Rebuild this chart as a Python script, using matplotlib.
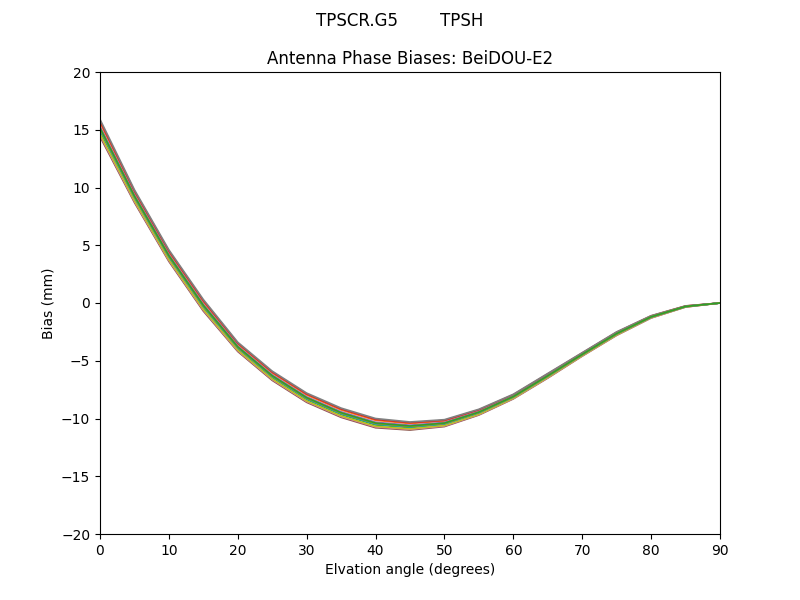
import matplotlib
matplotlib.use("Agg")
import matplotlib.pyplot as plt

# elevation grid (degrees)
elev = [0, 5, 10, 15, 20, 25, 30, 35, 40, 45, 50, 55, 60, 65, 70, 75, 80, 85, 90]

# phase biases (mm), one curve per azimuth 0..360 step 30
az_000 = [15.15, 9.25, 4.10, -0.20, -3.80, -6.30, -8.20, -9.50, -10.40, -10.65, -10.40, -9.45, -8.10, -6.30, -4.45, -2.65, -1.20, -0.30, 0.0]
az_030 = [15.60, 9.58, 4.40, 0.10, -3.56, -6.06, -7.96, -9.26, -10.16, -10.44, -10.22, -9.30, -7.98, -6.18, -4.36, -2.56, -1.14, -0.27, 0.0]
az_060 = [14.85, 9.03, 3.90, -0.40, -3.96, -6.46, -8.36, -9.66, -10.56, -10.79, -10.52, -9.55, -8.18, -6.38, -4.51, -2.71, -1.24, -0.32, 0.0]
az_090 = [15.75, 9.69, 4.50, 0.20, -3.48, -5.98, -7.88, -9.18, -10.08, -10.37, -10.16, -9.25, -7.94, -6.14, -4.33, -2.53, -1.12, -0.26, 0.0]
az_120 = [15.30, 9.36, 4.20, -0.10, -3.72, -6.22, -8.12, -9.42, -10.32, -10.58, -10.34, -9.40, -8.06, -6.26, -4.42, -2.62, -1.18, -0.29, 0.0]
az_150 = [14.40, 8.70, 3.60, -0.70, -4.20, -6.70, -8.60, -9.90, -10.80, -11.00, -10.70, -9.70, -8.30, -6.50, -4.60, -2.80, -1.30, -0.35, 0.0]
az_180 = [14.55, 8.81, 3.70, -0.60, -4.12, -6.62, -8.52, -9.82, -10.72, -10.93, -10.64, -9.65, -8.26, -6.46, -4.57, -2.77, -1.28, -0.34, 0.0]
az_210 = [15.90, 9.80, 4.60, 0.30, -3.40, -5.90, -7.80, -9.10, -10.00, -10.30, -10.10, -9.20, -7.90, -6.10, -4.30, -2.50, -1.10, -0.25, 0.0]
az_240 = [14.63, 8.87, 3.75, -0.55, -4.08, -6.58, -8.48, -9.78, -10.68, -10.90, -10.61, -9.63, -8.24, -6.44, -4.56, -2.76, -1.27, -0.34, 0.0]
az_270 = [15.00, 9.14, 4.00, -0.30, -3.88, -6.38, -8.28, -9.58, -10.48, -10.72, -10.46, -9.50, -8.14, -6.34, -4.48, -2.68, -1.22, -0.31, 0.0]
az_300 = [15.08, 9.20, 4.05, -0.25, -3.84, -6.34, -8.24, -9.54, -10.44, -10.69, -10.43, -9.48, -8.12, -6.32, -4.47, -2.67, -1.21, -0.30, 0.0]
az_330 = [15.12, 9.22, 4.08, -0.22, -3.82, -6.32, -8.22, -9.52, -10.42, -10.67, -10.42, -9.46, -8.11, -6.31, -4.46, -2.66, -1.20, -0.30, 0.0]
az_360 = [15.15, 9.25, 4.10, -0.20, -3.80, -6.30, -8.20, -9.50, -10.40, -10.65, -10.40, -9.45, -8.10, -6.30, -4.45, -2.65, -1.20, -0.30, 0.0]

curves = [az_000, az_030, az_060, az_090, az_120, az_150, az_180,
          az_210, az_240, az_270, az_300, az_330, az_360]

fig, ax = plt.subplots(figsize=(8, 6), dpi=100)
for c in curves:
    ax.plot(elev, c, linewidth=1.2)

ax.set_xlim(0, 90)
ax.set_ylim(-20, 20)
ax.set_xlabel("Elvation angle (degrees)")
ax.set_ylabel("Bias (mm)")
ax.set_title("Antenna Phase Biases: BeiDOU-E2")
fig.suptitle("TPSCR.G5        TPSH")

fig.savefig("out.png")
